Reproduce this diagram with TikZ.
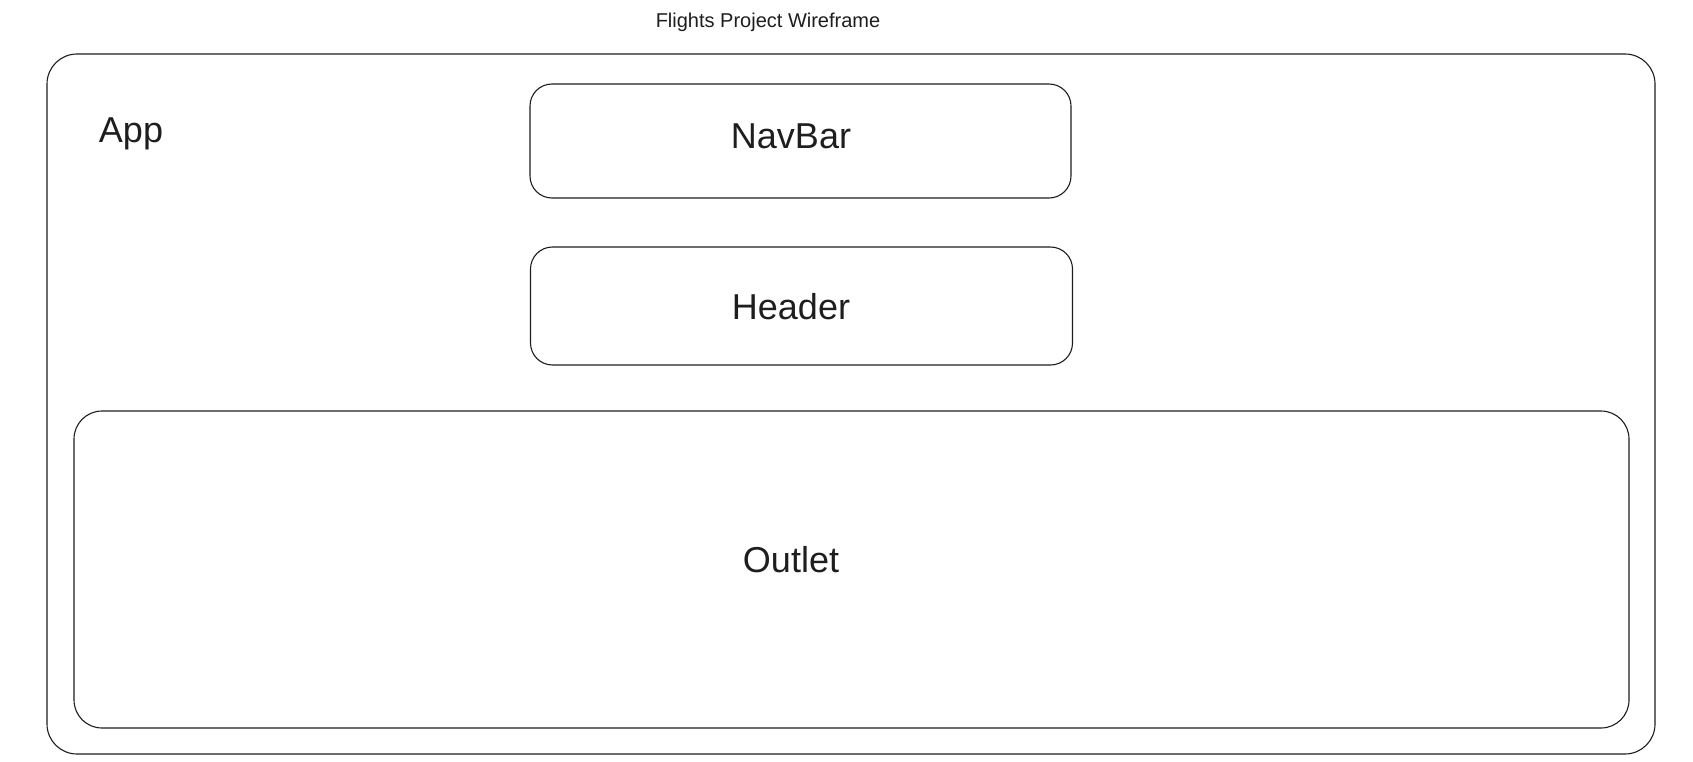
\documentclass[tikz,border=0pt]{standalone}
\usepackage{fontspec}
\setmainfont{Liberation Sans}
\definecolor{ink}{HTML}{1E1E1E}
\begin{document}
\begin{tikzpicture}[x=1pt,y=-1pt,
  box/.style={draw=ink,line width=1.1pt,rounded corners=#1,inner sep=0pt},
  box/.default=24pt,
  lbl/.style={text=ink,font=\fontsize{36}{40}\selectfont,inner sep=0pt,anchor=center},
  ttl/.style={text=ink,font=\fontsize{20}{24}\selectfont,inner sep=0pt,anchor=center}]
\useasboundingbox (0,0) rectangle (1693,762);
\fill[white] (0,0) rectangle (1693,762);
% boxes
\node[box=30pt,minimum width=1608pt,minimum height=700pt] (app) at (851,404) {};
\node[box=22pt,minimum width=541pt,minimum height=114pt] (navbar) at (800.5,141) {};
\node[box=22pt,minimum width=542pt,minimum height=118pt] (header) at (801.5,306) {};
\node[box=28pt,minimum width=1555pt,minimum height=317pt] (outlet) at (851.5,569.5) {};
% labels
\node[ttl] (title) at (768,22) {Flights Project Wireframe};
\node[lbl] (applbl) at (131,134) {App};
\node[lbl] (navlbl) at (791,136) {NavBar};
\node[lbl] (hdrlbl) at (791,307) {Header};
\node[lbl] (outlbl) at (791,560) {Outlet};
\end{tikzpicture}
\end{document}
